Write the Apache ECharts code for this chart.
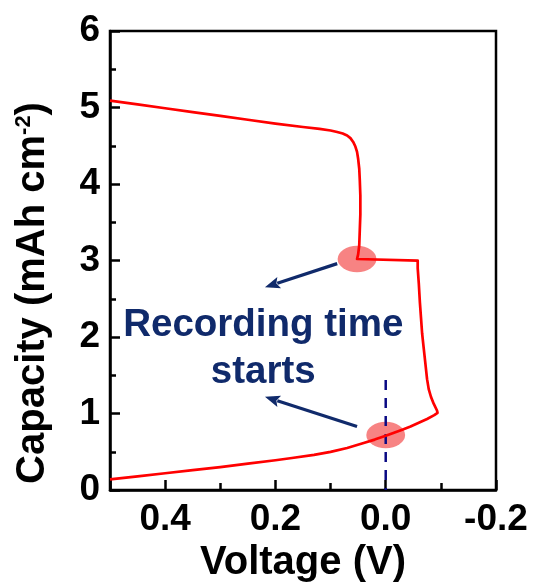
<!DOCTYPE html>
<html>
<head>
<meta charset="utf-8">
<script src="https://cdn.jsdelivr.net/npm/echarts@6/dist/echarts.min.js"></script>
<style>
  html, body { margin: 0; padding: 0; background: #fff; }
  #chart { width: 533px; height: 588px; }
</style>
</head>
<body>
<div id="chart"></div>
<script>
// Galvanostatic curve: capacity vs. voltage (x axis runs from 0.5 V down to -0.2 V)
const voltage = [
  0.500, 0.450, 0.400, 0.350, 0.300, 0.250, 0.200, 0.150, 0.120, 0.100,
  0.088, 0.078, 0.070, 0.064, 0.059, 0.055, 0.052, 0.050, 0.048, 0.047,
  0.046, 0.046, 0.047, 0.048, 0.050, 0.052, 0.052,
  -0.058, -0.058, -0.060, -0.062, -0.064, -0.066, -0.069, -0.072, -0.075,
  -0.078, -0.082, -0.087, -0.093, -0.094,
  -0.088, -0.075, -0.060, -0.045, -0.030, -0.015, 0.000, 0.020, 0.040,
  0.070, 0.100, 0.130, 0.170, 0.200, 0.250, 0.300, 0.350, 0.400, 0.450, 0.500
];
const capacity = [
  5.09, 5.04, 4.99, 4.94, 4.89, 4.84, 4.79, 4.745, 4.72, 4.70,
  4.68, 4.66, 4.635, 4.60, 4.55, 4.49, 4.42, 4.33, 4.20, 4.05,
  3.85, 3.60, 3.40, 3.20, 3.08, 3.02, 3.00,
  3.00, 2.90, 2.70, 2.45, 2.25, 2.05, 1.85, 1.65, 1.45,
  1.32, 1.22, 1.13, 1.04, 1.01,
  0.98, 0.93, 0.88, 0.83, 0.79, 0.75, 0.71, 0.66, 0.615,
  0.55, 0.50, 0.46, 0.42, 0.39, 0.345, 0.30, 0.26, 0.22, 0.18, 0.14
];

// Axis tick labels
const xTickLabels = ['0.4', '0.2', '0.0', '-0.2'];
const yTickLabels = ['0', '1', '2', '3', '4', '5', '6'];

// Dashed guide at 0 V
const guideVoltage = [0, 0];
const guideCapacity = [1.44, 0];

// Highlighted points where recording starts
const spotVoltage = [0.052, 0.000];
const spotCapacity = [3.02, 0.72];

// Arrows from the highlighted points toward the note
const arrowFromVoltage = [0.088, 0.052];
const arrowFromCapacity = [2.96, 0.83];
const arrowToVoltage = [0.219, 0.219];
const arrowToCapacity = [2.65, 1.22];

// Note text and its anchor (line centres)
const noteLines = ['Recording time', 'starts'];
const noteVoltage = 0.222;
const noteCapacity = [2.15, 1.54];

const FONT = "'Liberation Sans', Arial, sans-serif";
const BLACK = '#000';
const NAVY = '#102a6b';

const chart = echarts.init(document.getElementById('chart'), null, { renderer: 'canvas' });

function fmt(v) {
  return (Math.abs(v) < 1e-9 ? 0 : v).toFixed(1);
}

chart.setOption({
  animation: false,
  backgroundColor: '#fff',
  grid: {
    left: 110, right: 37, top: 31, bottom: 94,
    show: true, borderColor: BLACK, borderWidth: 2.5, backgroundColor: 'transparent'
  },
  xAxis: {
    type: 'value',
    min: -0.2, max: 0.5, interval: 0.2, inverse: true,
    name: 'Voltage (V)', nameLocation: 'middle', nameGap: 41,
    nameTextStyle: { fontFamily: FONT, fontWeight: 'bold', fontSize: 40, color: BLACK },
    axisLine: { show: true, onZero: false, lineStyle: { color: BLACK, width: 2.5 } },
    axisTick: { show: true, inside: true, length: 10, lineStyle: { color: BLACK, width: 2.5 } },
    minorTick: { show: true, splitNumber: 2, length: 7, lineStyle: { color: BLACK, width: 2.5 } },
    splitLine: { show: false },
    axisLabel: {
      margin: 11, fontFamily: FONT, fontWeight: 'bold', fontSize: 37, color: BLACK,
      showMaxLabel: false,
      formatter: v => (xTickLabels.includes(fmt(v)) ? fmt(v) : '')
    }
  },
  yAxis: {
    type: 'value',
    min: 0, max: 6, interval: 1,
    axisLine: { show: true, onZero: false, lineStyle: { color: BLACK, width: 2.5 } },
    axisTick: { show: true, inside: true, length: 10, lineStyle: { color: BLACK, width: 2.5 } },
    minorTick: { show: true, splitNumber: 2, length: 6, lineStyle: { color: BLACK, width: 2.5 } },
    splitLine: { show: false },
    axisLabel: {
      margin: 10, fontFamily: FONT, fontWeight: 'bold', fontSize: 37, color: BLACK,
      formatter: v => (yTickLabels.includes(String(v)) ? String(v) : '')
    }
  },
  series: [
    {
      name: 'guide',
      type: 'line',
      z: 3,
      showSymbol: false,
      silent: true,
      data: guideVoltage.map((v, i) => [v, guideCapacity[i]]),
      lineStyle: { color: '#0a0a84', width: 2.5, type: [10, 8] }
    },
    {
      name: 'capacity',
      type: 'line',
      z: 4,
      showSymbol: false,
      silent: true,
      data: voltage.map((v, i) => [v, capacity[i]]),
      lineStyle: { color: '#ff0000', width: 2.7, join: 'round' }
    }
  ]
});

// Annotations placed through the chart's own coordinate conversion
function px(v, c) {
  return chart.convertToPixel({ xAxisIndex: 0, yAxisIndex: 0 }, [v, c]);
}

const graphics = [];

spotVoltage.forEach((v, i) => {
  const p = px(v, spotCapacity[i]);
  graphics.push({
    type: 'circle', z: 1, silent: true,
    x: p[0], y: p[1], scaleX: 1.47, scaleY: 1,
    shape: { cx: 0, cy: 0, r: 13.2 },
    style: { fill: 'rgba(245, 100, 100, 0.8)' }
  });
});

arrowFromVoltage.forEach((v, i) => {
  const a = px(v, arrowFromCapacity[i]);
  const b = px(arrowToVoltage[i], arrowToCapacity[i]);
  const dx = b[0] - a[0], dy = b[1] - a[1];
  const len = Math.hypot(dx, dy);
  const ux = dx / len, uy = dy / len;
  const headLen = 15, headHalf = 6;
  const base = [b[0] - ux * headLen, b[1] - uy * headLen];
  graphics.push({
    type: 'line', z: 5, silent: true,
    shape: { x1: a[0], y1: a[1], x2: base[0] + ux * 2, y2: base[1] + uy * 2 },
    style: { stroke: NAVY, lineWidth: 3.2 }
  });
  graphics.push({
    type: 'polygon', z: 5, silent: true,
    shape: { points: [
      [b[0], b[1]],
      [base[0] - uy * headHalf, base[1] + ux * headHalf],
      [base[0] + ux * 3, base[1] + uy * 3],
      [base[0] + uy * headHalf, base[1] - ux * headHalf]
    ] },
    style: { fill: NAVY }
  });
});

noteLines.forEach((t, i) => {
  const p = px(noteVoltage, noteCapacity[i]);
  graphics.push({
    type: 'text', z: 5, silent: true,
    x: p[0], y: p[1],
    style: {
      text: t, fill: NAVY, font: 'bold 38.5px ' + FONT,
      textAlign: 'center', textVerticalAlign: 'middle'
    }
  });
});

// Rotated y-axis title with superscript unit
graphics.push({
  type: 'text', z: 5, silent: true,
  x: 33, y: 293, rotation: Math.PI / 2,
  style: {
    text: '{a|Capacity (mAh cm}{s|-2}{a|)}',
    textAlign: 'center', textVerticalAlign: 'middle',
    rich: {
      a: { fontFamily: FONT, fontWeight: 'bold', fontSize: 40, fill: BLACK, verticalAlign: 'bottom' },
      s: { fontFamily: FONT, fontWeight: 'bold', fontSize: 22, fill: BLACK, verticalAlign: 'top' }
    }
  }
});

chart.setOption({ graphic: graphics });
</script>
</body>
</html>
